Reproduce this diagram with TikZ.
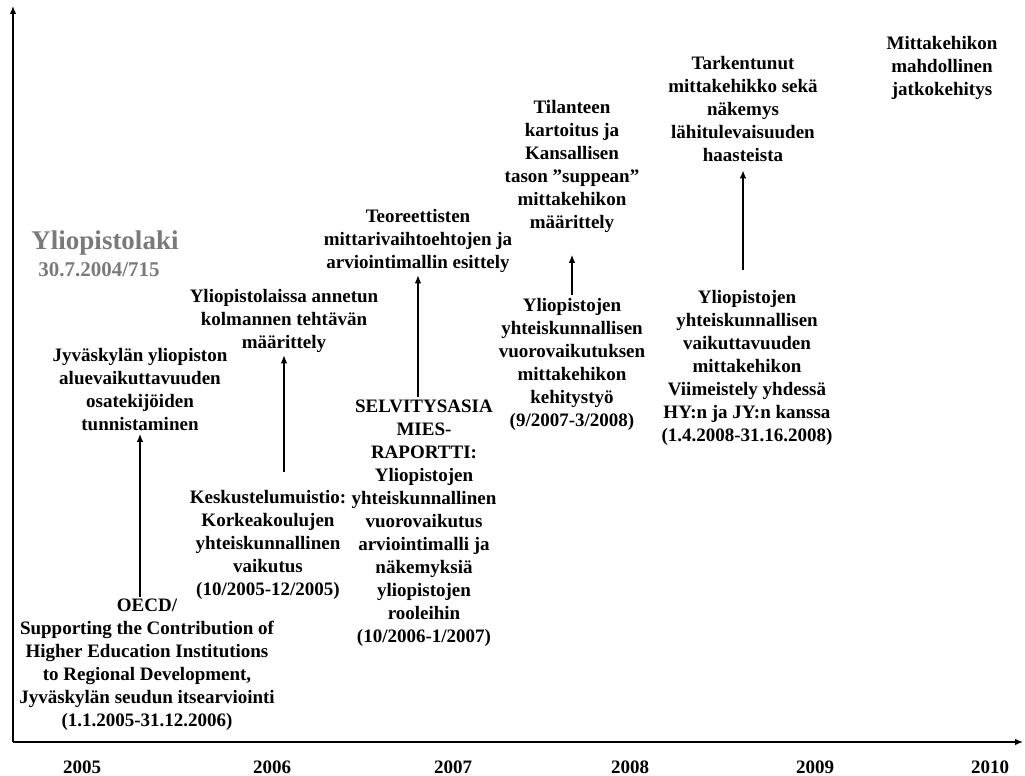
\documentclass[tikz,border=0pt]{standalone}
\usepackage{fontspec}
\setmainfont{Liberation Serif}
\usetikzlibrary{arrows.meta}
\definecolor{lawgray}{HTML}{7A7A7A}
\begin{document}
\begin{tikzpicture}[x=1pt, y=-1pt,
  every node/.style={font=\fontsize{19}{23}\selectfont\bfseries, align=center, inner sep=2pt},
  year/.style={inner sep=0pt},
  >={Latex[length=8pt,width=6.5pt]}, line width=1.3pt]
  \useasboundingbox (0,0) rectangle (1025,776);
  \coordinate (o) at (13,742);
  \coordinate (ytop) at (13,6);
  \coordinate (xend) at (1023,742);
  \draw[->] (o) -- (ytop);
  \draw[->] (o) -- (xend);
  \node[year] (y2005) at (82,767) {2005};
  \node[year] (y2006) at (272,767) {2006};
  \node[year] (y2007) at (453,767) {2007};
  \node[year] (y2008) at (630,767) {2008};
  \node[year] (y2009) at (815,767) {2009};
  \node[year] (y2010) at (990,767) {2010};
  \node[font=\fontsize{27}{30}\selectfont\bfseries, text=lawgray] (laki) at (105,243) {Yliopistolaki};
  \node[font=\fontsize{21}{24}\selectfont\bfseries, text=lawgray] (lakidate) at (99,270) {30.7.2004/715};
  \node (oecd) at (147,665) {OECD/\\Supporting the Contribution of\\Higher Education Institutions\\to Regional Development,\\Jyväskylän seudun itsearviointi\\(1.1.2005-31.12.2006)};
  \node (jyu) at (140,390) {Jyväskylän yliopiston\\aluevaikuttavuuden\\osatekijöiden\\tunnistaminen};
  \node (kesk) at (268,545) {Keskustelumuistio:\\Korkeakoulujen\\yhteiskunnallinen\\vaikutus\\(10/2005-12/2005)};
  \node (tehtava) at (284,321) {Yliopistolaissa annetun\\kolmannen tehtävän\\määrittely};
  \node (mies) at (424,523) {SELVITYSASIA\\MIES-\\RAPORTTI:\\Yliopistojen\\yhteiskunnallinen\\vuorovaikutus\\arviointimalli ja\\näkemyksiä\\yliopistojen\\rooleihin\\(10/2006-1/2007)};
  \node (teor) at (418,241) {Teoreettisten\\mittarivaihtoehtojen ja\\arviointimallin esittely};
  \node (kehitys) at (572,364) {Yliopistojen\\yhteiskunnallisen\\vuorovaikutuksen\\mittakehikon\\kehitystyö\\(9/2007-3/2008)};
  \node (kartoitus) at (572,166) {Tilanteen\\kartoitus ja\\Kansallisen\\tason ”suppean”\\mittakehikon\\määrittely};
  \node (viim) at (747,368) {Yliopistojen\\yhteiskunnallisen\\vaikuttavuuden\\mittakehikon\\Viimeistely yhdessä\\HY:n ja JY:n kanssa\\(1.4.2008-31.16.2008)};
  \node (tark) at (743,109) {Tarkentunut\\mittakehikko sekä\\näkemys\\lähitulevaisuuden\\haasteista};
  \node (jatko) at (942,68) {Mittakehikon\\mahdollinen\\jatkokehitys};
  \draw[->] (jyu.south |- oecd.north) -- (jyu.south);
  \draw[->, shorten <=16pt] (tehtava.south |- kesk.north) -- (tehtava.south);
  \draw[->] (teor.south |- mies.north) -- (teor.south);
  \draw[->, shorten >=20pt] (kartoitus.south |- kehitys.north) -- (kartoitus.south);
  \draw[->, shorten <=18pt, shorten >=6pt] (tark.south |- viim.north) -- (tark.south);
\end{tikzpicture}
\end{document}
